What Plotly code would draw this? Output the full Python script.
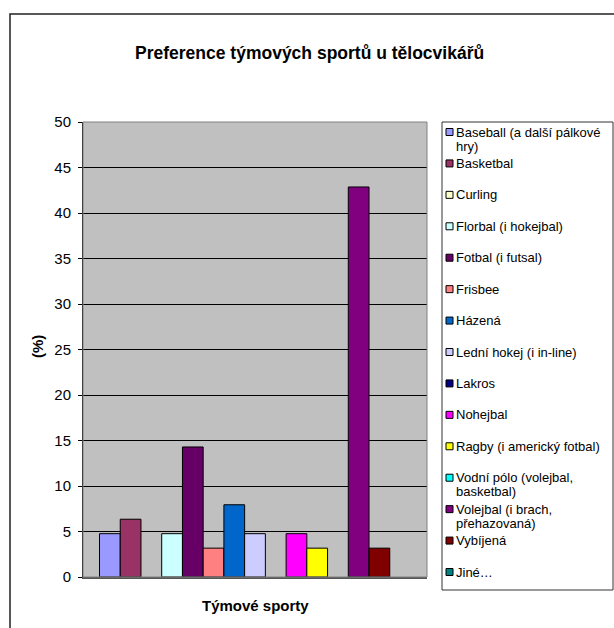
import plotly.graph_objects as go

# ---- data ----
sports = [
    "Baseball (a další pálkové<br>hry)",
    "Basketbal",
    "Curling",
    "Florbal (i hokejbal)",
    "Fotbal (i futsal)",
    "Frisbee",
    "Házená",
    "Lední hokej (i in-line)",
    "Lakros",
    "Nohejbal",
    "Ragby (i americký fotbal)",
    "Vodní pólo (volejbal,<br>basketbal)",
    "Volejbal (i brach,<br>přehazovaná)",
    "Vybíjená",
    "Jiné…",
]
percent = [4.76, 6.35, 0, 4.76, 14.29, 3.17, 7.94, 4.76, 0, 4.76, 3.17, 0, 42.86, 3.17, 0]
colors = ["#9999FF", "#993366", "#FFFFCC", "#CCFFFF", "#660066", "#FF8080", "#0066CC",
          "#CCCCFF", "#000080", "#FF00FF", "#FFFF00", "#00FFFF", "#800080", "#800000", "#008080"]
y_ticks = [0, 5, 10, 15, 20, 25, 30, 35, 40, 45, 50]
title = "Preference týmových sportů u tělocvikářů"
x_title = "Týmové sporty"
y_title = "(%)"

W, H = 614, 628
L, R, T, B = 83, 427, 122, 577  # plot area in px


def px_x(px):
    return (px - L) / (R - L)


def px_y(py):
    return (B - py) / (B - T)


FONT = "Liberation Sans, Arial, sans-serif"

fig = go.Figure()
for name, val, col in zip(sports, percent, colors):
    fig.add_trace(go.Bar(
        x=[""], y=[val], name=name.replace("<br>", " "),
        marker=dict(color=col, line=dict(color="black", width=1 if val > 0 else 0)),
        showlegend=False, hoverinfo="y+name",
    ))

shapes = []
annotations = []

# outer chart border (extends beyond window)
shapes.append(dict(type="path", xref="paper", yref="paper",
                   path=f"M {px_x(10)} {px_y(700)} L {px_x(10)} {px_y(14)} L {px_x(700)} {px_y(14)}",
                   line=dict(color="#222", width=1.5)))
# plot area border
shapes.append(dict(type="rect", xref="paper", yref="paper", x0=0, x1=1, y0=0, y1=1,
                   line=dict(color="#808080", width=1), layer="above"))

# legend box
shapes.append(dict(type="rect", xref="paper", yref="paper",
                   x0=px_x(442), x1=px_x(613), y0=px_y(590), y1=px_y(122),
                   line=dict(color="#333", width=1), fillcolor="white"))

y0_item, step = 132, (572 - 132) / 14
for i, (name, col) in enumerate(zip(sports, colors)):
    cy = y0_item + i * step
    shapes.append(dict(type="rect", xref="paper", yref="paper",
                       x0=px_x(446), x1=px_x(453), y0=px_y(cy + 3.5), y1=px_y(cy - 3.5),
                       fillcolor=col, line=dict(color="black", width=1)))
    for k, line in enumerate(name.split("<br>")):
        annotations.append(dict(xref="paper", yref="paper", x=px_x(455), y=px_y(cy + k * 14),
                                xanchor="left", yanchor="middle", align="left", showarrow=False,
                                borderpad=0,
                                text=line, font=dict(family=FONT, size=13, color="black")))

annotations.append(dict(xref="paper", yref="paper", x=px_x(309), y=px_y(53),
                        xanchor="center", yanchor="middle",
                        text=f"<b>{title}</b>", showarrow=False,
                        font=dict(family=FONT, size=17.5, color="black")))
annotations.append(dict(xref="paper", yref="paper", x=0.5, y=px_y(605),
                        xanchor="center", yanchor="middle",
                        text=f"<b>{x_title}</b>", showarrow=False,
                        font=dict(family=FONT, size=15, color="black")))
annotations.append(dict(xref="paper", yref="paper", x=px_x(37), y=px_y(347),
                        xanchor="center", yanchor="middle",
                        text=f"<b>{y_title}</b>", showarrow=False, textangle=-90,
                        font=dict(family=FONT, size=15, color="black")))

fig.update_layout(
    width=W, height=H,
    margin=dict(l=L, r=W - R, t=T, b=H - B, pad=0),
    paper_bgcolor="white", plot_bgcolor="#C0C0C0",
    barmode="group", bargap=0.096, bargroupgap=0,
    showlegend=False,
    shapes=shapes, annotations=annotations,
    font=dict(family=FONT, size=15, color="black"),
    xaxis=dict(type="category", range=[-0.5, 0.5], showticklabels=False, ticks="",
               showgrid=False, showline=True, linecolor="#555", linewidth=2, zeroline=False,
               fixedrange=True),
    yaxis=dict(range=[0, 50], tickvals=y_ticks, ticks="outside", ticklen=4, tickcolor="black",
               showgrid=True, gridcolor="black", gridwidth=1, showline=True, linecolor="black",
               linewidth=1, zeroline=False, tickfont=dict(family=FONT, size=15, color="black"),
               ticklabelstandoff=4, fixedrange=True),
)

fig.write_html("out.html")
